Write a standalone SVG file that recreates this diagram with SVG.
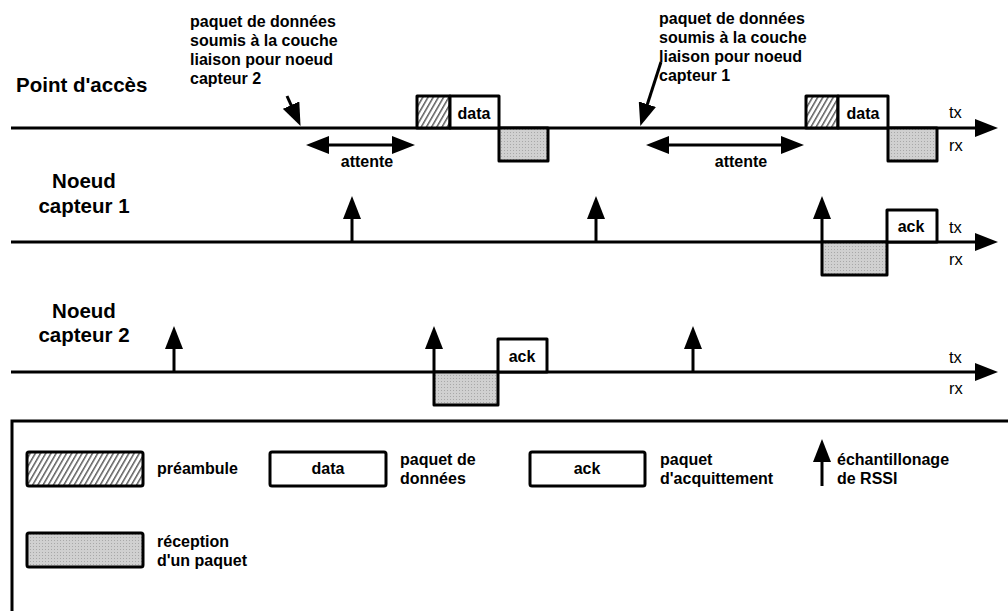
<svg xmlns="http://www.w3.org/2000/svg" width="1008" height="611" viewBox="0 0 1008 611">
<style>
.b{font-family:"Liberation Sans",Arial,sans-serif;font-weight:bold;font-size:16px;fill:#000}
.t{font-size:20.5px}
.r{font-family:"Liberation Sans",Arial,sans-serif;font-size:16.5px;fill:#000}
.m{text-anchor:middle}
.ln{stroke:#000;stroke-width:3;fill:none}
.bx{stroke:#000;stroke-width:3;stroke-linejoin:round}
.w{fill:#fff}
.h{fill:url(#hatch)}
.g{fill:url(#dots)}
</style>
<defs>
<pattern id="hatch" patternUnits="userSpaceOnUse" width="4.5" height="10" patternTransform="rotate(30)">
<rect width="4.5" height="10" fill="#fff"/>
<line x1="0.8" y1="0" x2="0.8" y2="10" stroke="#222" stroke-width="1.1"/>
</pattern>
<pattern id="dots" patternUnits="userSpaceOnUse" width="3" height="3">
<rect width="3" height="3" fill="#d0d0d0"/>
<rect width="1" height="1" fill="#a8a8a8"/>
</pattern>
<marker id="ah" markerUnits="userSpaceOnUse" markerWidth="24" markerHeight="18" refX="10" refY="9" orient="auto-start-reverse">
<path d="M0,0 L23,9 L0,18 z" fill="#000"/>
</marker>
</defs>

<g id="label-ap">
<text class="b t" x="16" y="92">Point d'accès</text>
</g>
<g id="label-n1">
<text class="b t m" x="84" y="188">Noeud</text>
<text class="b t m" x="84" y="213">capteur 1</text>
</g>
<g id="label-n2">
<text class="b t m" x="84" y="318">Noeud</text>
<text class="b t m" x="84" y="342">capteur 2</text>
</g>
<g id="note-1">
<text class="b" x="190" y="27">paquet de données</text>
<text class="b" x="190" y="46">soumis à la couche</text>
<text class="b" x="190" y="65">liaison pour noeud</text>
<text class="b" x="190" y="84">capteur 2</text>
</g>
<g id="note-2">
<text class="b" x="659" y="24">paquet de données</text>
<text class="b" x="659" y="43">soumis à la couche</text>
<text class="b" x="659" y="62">liaison pour noeud</text>
<text class="b" x="659" y="81">capteur 1</text>
</g>

<g id="connectors">
<line class="ln" x1="11" y1="128" x2="985" y2="128" marker-end="url(#ah)"/>
<line class="ln" x1="11" y1="242" x2="985" y2="242" marker-end="url(#ah)"/>
<line class="ln" x1="11" y1="372" x2="985" y2="372" marker-end="url(#ah)"/>
<line class="ln" x1="287" y1="96" x2="295.2" y2="114.2" marker-end="url(#ah)"/>
<line class="ln" x1="661" y1="62" x2="644.3" y2="113.7" marker-end="url(#ah)"/>
<line class="ln" x1="319" y1="145" x2="402" y2="145" marker-start="url(#ah)" marker-end="url(#ah)"/>
<line class="ln" x1="659" y1="145" x2="791" y2="145" marker-start="url(#ah)" marker-end="url(#ah)"/>
<line class="ln" x1="352" y1="242" x2="352" y2="209" marker-end="url(#ah)"/>
<line class="ln" x1="596" y1="242" x2="596" y2="209" marker-end="url(#ah)"/>
<line class="ln" x1="822" y1="242" x2="822" y2="209" marker-end="url(#ah)"/>
<line class="ln" x1="174" y1="372" x2="174" y2="339" marker-end="url(#ah)"/>
<line class="ln" x1="434" y1="372" x2="434" y2="339" marker-end="url(#ah)"/>
<line class="ln" x1="693" y1="372" x2="693" y2="339" marker-end="url(#ah)"/>
</g>

<g id="ap-frame-1">
<rect class="bx h" x="417" y="96" width="33" height="32"/>
<rect class="bx w" x="450" y="96" width="49" height="32"/>
<text class="b m" x="474" y="119">data</text>
<rect class="bx g" x="499" y="128" width="49" height="33"/>
</g>
<g id="ap-frame-2">
<rect class="bx h" x="806" y="96" width="32" height="32"/>
<rect class="bx w" x="838" y="96" width="50" height="32"/>
<text class="b m" x="863" y="119">data</text>
<rect class="bx g" x="888" y="128" width="49" height="33"/>
</g>
<g id="n1-frame">
<rect class="bx g" x="822" y="242" width="65" height="33"/>
<rect class="bx w" x="887" y="210" width="50" height="32"/>
<text class="b m" x="911" y="232">ack</text>
</g>
<g id="n2-frame">
<rect class="bx g" x="434" y="372" width="64" height="33"/>
<rect class="bx w" x="498" y="339" width="49" height="33"/>
<text class="b m" x="522" y="362">ack</text>
</g>
<g id="attente-labels">
<text class="b m" x="367" y="167">attente</text>
<text class="b m" x="741" y="167">attente</text>
</g>
<g id="txrx">
<text class="r" x="949" y="118">tx</text>
<text class="r" x="949" y="151">rx</text>
<text class="r" x="949" y="233">tx</text>
<text class="r" x="949" y="265">rx</text>
<text class="r" x="949" y="363">tx</text>
<text class="r" x="949" y="394">rx</text>
</g>

<g id="legend">
<rect class="ln" x="12" y="421" width="1010" height="210"/>
<rect class="bx h" x="27" y="452" width="116" height="34" rx="2"/>
<text class="b" x="157" y="474">préambule</text>
<rect class="bx w" x="270" y="452" width="116" height="34" rx="2"/>
<text class="b m" x="328" y="474">data</text>
<text class="b" x="400" y="465">paquet de</text>
<text class="b" x="400" y="484">données</text>
<rect class="bx w" x="530" y="452" width="115" height="34" rx="2"/>
<text class="b m" x="587" y="474">ack</text>
<text class="b" x="660" y="465">paquet</text>
<text class="b" x="660" y="484">d'acquittement</text>
<line class="ln" x1="822" y1="486" x2="822" y2="452" marker-end="url(#ah)"/>
<text class="b" x="837" y="465">échantillonage</text>
<text class="b" x="837" y="484">de RSSI</text>
<rect class="bx g" x="27" y="533" width="116" height="34" rx="2"/>
<text class="b" x="157" y="547">réception</text>
<text class="b" x="157" y="566">d'un paquet</text>
</g>
</svg>
